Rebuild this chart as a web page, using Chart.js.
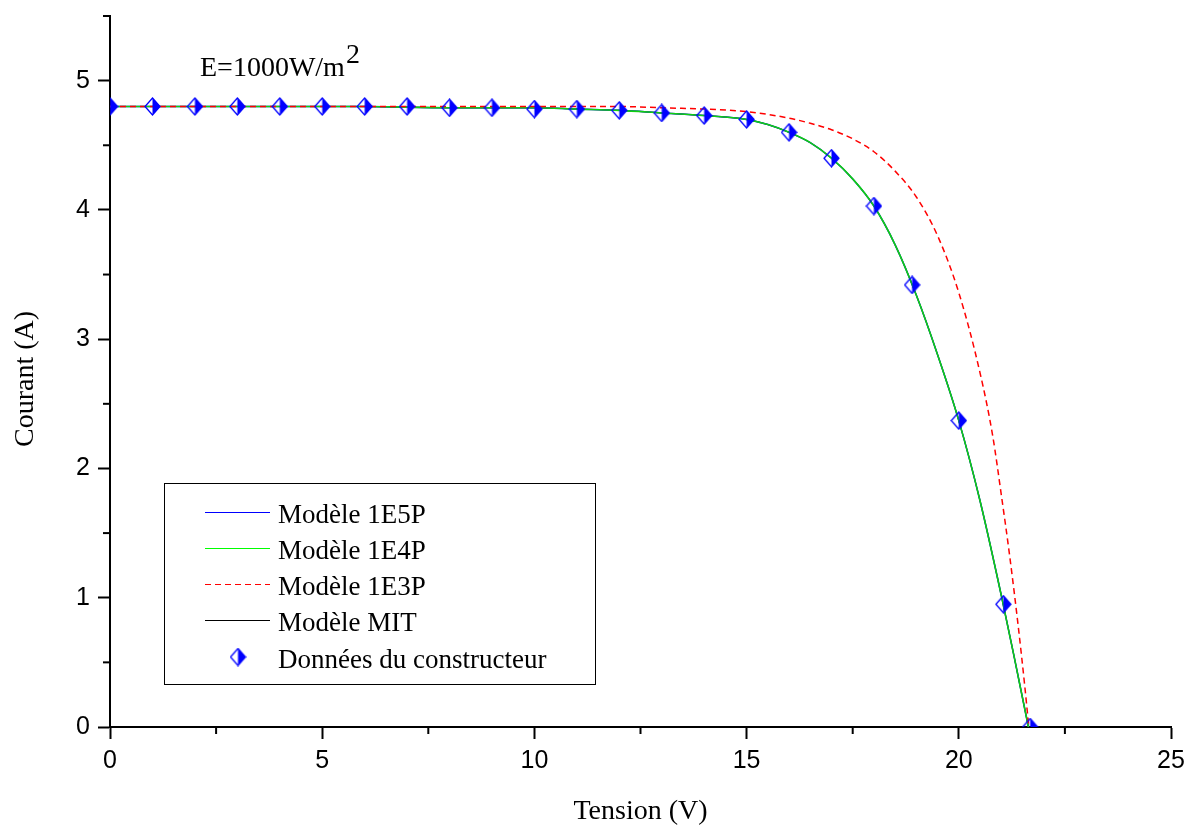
<!DOCTYPE html>
<html lang="fr">
<head>
    <meta charset="UTF-8">
    <title>Courant - Tension</title>
    <script src="https://cdn.jsdelivr.net/npm/chart.js"></script>
    <style>
        body { margin: 0; background: #fff; }
        canvas { display: block; }
    </style>
</head>
<body>
    <canvas id="ivChart" width="1189" height="829"></canvas>

    <script>
        // données
        const modelV = [0, 2, 4, 6, 8, 10, 11, 12, 13, 14, 15, 15.5, 16, 16.5, 17, 17.5, 18, 18.5, 19, 19.5, 20, 20.5, 21, 21.3, 21.64];
        const i1E5P = [4.80, 4.80, 4.80, 4.80, 4.79, 4.79, 4.78, 4.77, 4.75, 4.73, 4.70, 4.66, 4.60, 4.52, 4.40, 4.24, 4.03, 3.73, 3.34, 2.88, 2.37, 1.75, 1.02, 0.55, 0];
        const i1E4P = [4.80, 4.80, 4.80, 4.80, 4.79, 4.79, 4.78, 4.77, 4.75, 4.73, 4.70, 4.66, 4.60, 4.52, 4.40, 4.24, 4.03, 3.73, 3.34, 2.88, 2.37, 1.75, 1.02, 0.55, 0];
        const iMIT  = [4.80, 4.80, 4.80, 4.80, 4.79, 4.79, 4.78, 4.77, 4.75, 4.73, 4.70, 4.66, 4.60, 4.52, 4.40, 4.24, 4.03, 3.73, 3.34, 2.88, 2.37, 1.75, 1.02, 0.55, 0];

        const v1E3P = [0, 12, 13, 14, 15, 16, 16.5, 17, 17.5, 18, 18.5, 19, 19.5, 20, 20.5, 20.8, 21.0, 21.2, 21.4, 21.55, 21.65];
        const i1E3P = [4.80, 4.80, 4.79, 4.78, 4.76, 4.71, 4.67, 4.62, 4.55, 4.45, 4.30, 4.10, 3.80, 3.36, 2.74, 2.25, 1.80, 1.32, 0.78, 0.33, 0];

        const dataV = [0, 1, 2, 3, 4, 5, 6, 7, 8, 9, 10, 11, 12, 13, 14, 15, 16, 17, 18, 18.9, 20, 21.05, 21.68];
        const dataI = [4.80, 4.80, 4.80, 4.80, 4.80, 4.80, 4.80, 4.80, 4.79, 4.79, 4.78, 4.78, 4.77, 4.75, 4.73, 4.70, 4.60, 4.40, 4.03, 3.42, 2.37, 0.95, 0];

        const xTicks = [0, 5, 10, 15, 20, 25];
        const yTicks = [0, 1, 2, 3, 4, 5];
        const legendLabels = ['Modèle 1E5P', 'Modèle 1E4P', 'Modèle 1E3P', 'Modèle MIT', 'Données du constructeur'];

        const serif = '"Liberation Serif", "Times New Roman", serif';
        const sans = '"Liberation Sans", Arial, sans-serif';

        function pairs(xs, ys) {
            return xs.map((x, i) => ({ x: x, y: ys[i] }));
        }

        // losange à moitié plein
        function makeDiamond() {
            const c = document.createElement('canvas');
            c.width = 17;
            c.height = 19;
            const g = c.getContext('2d');
            g.fillStyle = '#0000ff';
            g.strokeStyle = '#0000ff';
            g.lineWidth = 1.3;
            g.beginPath();
            g.moveTo(8.5, 1); g.lineTo(16, 9.5); g.lineTo(8.5, 18); g.closePath();
            g.fill();
            g.beginPath();
            g.moveTo(8.5, 1); g.lineTo(16, 9.5); g.lineTo(8.5, 18); g.lineTo(1, 9.5); g.closePath();
            g.stroke();
            return c;
        }
        const diamond = makeDiamond();

        const decorPlugin = {
            id: 'decor',
            afterDraw(chart) {
                const ctx = chart.ctx;
                const area = chart.chartArea;
                const xs = chart.scales.x;
                const ys = chart.scales.y;
                ctx.save();

                // petites graduations
                ctx.strokeStyle = '#000';
                ctx.lineWidth = 2;
                for (let v = 2.5; v < 25; v += 5) {
                    const px = xs.getPixelForValue(v);
                    ctx.beginPath();
                    ctx.moveTo(px, area.bottom);
                    ctx.lineTo(px, area.bottom + 7);
                    ctx.stroke();
                }
                for (let v = 0.5; v <= 5.5; v += 1) {
                    const py = ys.getPixelForValue(v);
                    ctx.beginPath();
                    ctx.moveTo(area.left, py);
                    ctx.lineTo(area.left - 7, py);
                    ctx.stroke();
                }

                // titres des axes
                ctx.fillStyle = '#000';
                ctx.font = '28px ' + serif;
                ctx.textAlign = 'center';
                ctx.textBaseline = 'alphabetic';
                ctx.fillText('Tension (V)', (area.left + area.right) / 2, 819);
                ctx.save();
                ctx.translate(33, 379);
                ctx.rotate(-Math.PI / 2);
                ctx.fillText('Courant (A)', 0, 0);
                ctx.restore();

                // irradiance
                ctx.textAlign = 'left';
                ctx.fillText('E=1000W/m', 200, 76);
                const w = ctx.measureText('E=1000W/m').width;
                ctx.fillText('2', 200 + w + 1, 63);

                // légende
                ctx.strokeStyle = '#000';
                ctx.lineWidth = 1;
                ctx.strokeRect(164.5, 483.5, 431, 201);
                const rows = [512, 548, 584, 620, 657];
                const styles = [
                    { color: '#0000ff', dash: [] },
                    { color: '#00ff00', dash: [] },
                    { color: '#ff0000', dash: [6, 4] },
                    { color: '#000000', dash: [] }
                ];
                styles.forEach((s, i) => {
                    ctx.strokeStyle = s.color;
                    ctx.setLineDash(s.dash);
                    ctx.beginPath();
                    ctx.moveTo(205, rows[i] + 0.5);
                    ctx.lineTo(270, rows[i] + 0.5);
                    ctx.stroke();
                });
                ctx.setLineDash([]);
                ctx.drawImage(diamond, 238 - diamond.width / 2, rows[4] - diamond.height / 2);
                ctx.fillStyle = '#000';
                ctx.font = '27px ' + serif;
                legendLabels.forEach((t, i) => {
                    ctx.fillText(t, 278, rows[i] + 11);
                });
                ctx.restore();
            }
        };

        const ctx = document.getElementById('ivChart').getContext('2d');
        const ivChart = new Chart(ctx, {
            type: 'line',
            data: {
                datasets: [
                    {
                        label: legendLabels[3],
                        data: pairs(modelV, iMIT),
                        borderColor: '#000000',
                        borderWidth: 1,
                        pointRadius: 0,
                        cubicInterpolationMode: 'monotone',
                        order: 4
                    },
                    {
                        label: legendLabels[0],
                        data: pairs(modelV, i1E5P),
                        borderColor: '#0000ff',
                        borderWidth: 1.5,
                        pointRadius: 0,
                        cubicInterpolationMode: 'monotone',
                        order: 3
                    },
                    {
                        label: legendLabels[1],
                        data: pairs(modelV, i1E4P),
                        borderColor: '#10d010',
                        borderWidth: 1.6,
                        pointRadius: 0,
                        cubicInterpolationMode: 'monotone',
                        order: 2
                    },
                    {
                        label: legendLabels[2],
                        data: pairs(v1E3P, i1E3P),
                        borderColor: '#ff0000',
                        borderWidth: 1.5,
                        borderDash: [6, 4],
                        pointRadius: 0,
                        cubicInterpolationMode: 'monotone',
                        order: 1
                    },
                    {
                        label: legendLabels[4],
                        data: pairs(dataV, dataI),
                        showLine: false,
                        pointStyle: diamond,
                        pointRadius: 8,
                        borderColor: '#0000ff',
                        backgroundColor: '#0000ff',
                        order: 0
                    }
                ]
            },
            options: {
                responsive: false,
                animation: false,
                layout: { padding: { left: 0, right: 18, top: 16, bottom: 0 } },
                plugins: {
                    legend: { display: false },
                    tooltip: { enabled: false }
                },
                scales: {
                    x: {
                        type: 'linear',
                        min: 0,
                        max: 25,
                        afterFit: s => { s.height = 102; s.paddingLeft = 0; s.paddingRight = 0; },
                        afterBuildTicks: s => { s.ticks = xTicks.map(v => ({ value: v })); },
                        border: { display: true, color: '#000', width: 2 },
                        grid: { drawOnChartArea: false, drawTicks: true, tickLength: 12, tickColor: '#000', tickWidth: 2 },
                        ticks: { color: '#000', font: { family: sans, size: 25 }, padding: 7, maxRotation: 0 }
                    },
                    y: {
                        type: 'linear',
                        min: 0,
                        max: 5.5,
                        afterFit: s => { s.width = 110; s.paddingTop = 0; s.paddingBottom = 0; },
                        afterBuildTicks: s => { s.ticks = yTicks.map(v => ({ value: v })); },
                        border: { display: true, color: '#000', width: 2 },
                        grid: { drawOnChartArea: false, drawTicks: true, tickLength: 12, tickColor: '#000', tickWidth: 2 },
                        ticks: { color: '#000', font: { family: sans, size: 25 }, padding: 8 }
                    }
                }
            },
            plugins: [decorPlugin]
        });
    </script>
</body>
</html>
